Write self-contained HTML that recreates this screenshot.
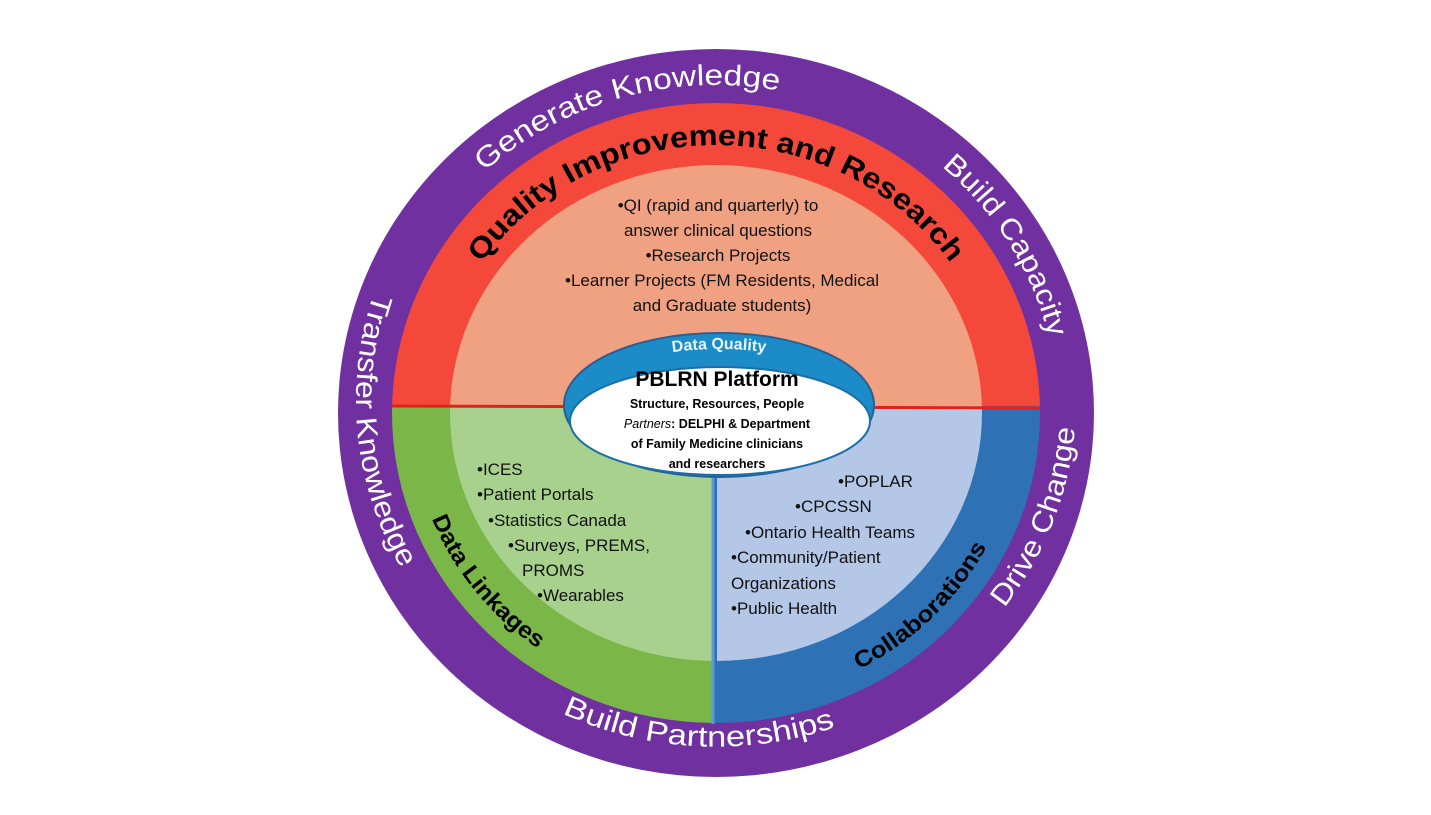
<!DOCTYPE html>
<html><head><meta charset="utf-8"><style>
html,body{margin:0;padding:0;background:#fff;}
svg{display:block;}
text{font-family:"Liberation Sans",sans-serif;}
</style></head><body>
<svg width="1431" height="815" viewBox="0 0 1431 815" xmlns="http://www.w3.org/2000/svg">
<defs>
<clipPath id="red"><ellipse cx="716" cy="413" rx="324" ry="310"/></clipPath>
<clipPath id="lite"><ellipse cx="716" cy="413" rx="266" ry="248"/></clipPath>
<path id="topOuter" d="M 374 413 A 342 328 0 0 1 1058 413" fill="none"/>
<path id="botOuter" d="M 536 101 A 360 346 0 1 0 896 101" fill="none"/>
<path id="topRed" d="M 433 413 A 283 268 0 0 1 999 413" fill="none"/>
<path id="botRed" d="M 452 268 A 305 290 0 1 0 980 268" fill="none"/>
<path id="dq" d="M 579 405 A 140 56 0 0 1 859 405" fill="none"/>
</defs>
<ellipse cx="716" cy="413" rx="378" ry="364" fill="#7030a0"/>
<g clip-path="url(#red)">
<rect x="380" y="90" width="680" height="316" fill="#f4493a"/>
<rect x="380" y="406" width="333" height="330" fill="#7ab648"/>
<rect x="713" y="406" width="350" height="330" fill="#2e72b5"/>
</g>
<g clip-path="url(#lite)">
<rect x="440" y="150" width="560" height="256" fill="#f0a182"/>
<rect x="440" y="406" width="273" height="270" fill="#a9d18e"/>
<rect x="717" y="406" width="290" height="270" fill="#b4c7e7"/>
</g>
<line x1="713" y1="406" x2="713" y2="724" stroke="#5b9bd5" stroke-width="3"/>
<line x1="392" y1="406" x2="1040" y2="408" stroke="#e4201c" stroke-width="3"/>

<ellipse cx="719" cy="405" rx="155" ry="72" fill="#1b8cc8" stroke="#2a5f93" stroke-width="2"/>
<ellipse cx="720" cy="421" rx="150" ry="54" fill="#fff" stroke="#1b6fa8" stroke-width="2"/>
<text font-size="16" font-weight="bold" fill="#e8f6ff"><textPath href="#dq" startOffset="50%" text-anchor="middle">Data Quality</textPath></text>

<g fill="#fff" font-size="29">
<text><textPath href="#topOuter" startOffset="41%" text-anchor="middle" textLength="316" lengthAdjust="spacingAndGlyphs">Generate Knowledge</textPath></text>
<text><textPath href="#topOuter" startOffset="83%" text-anchor="middle" textLength="205" lengthAdjust="spacingAndGlyphs">Build Capacity</textPath></text>
<text><textPath href="#botOuter" startOffset="21.7%" text-anchor="middle" textLength="285" lengthAdjust="spacingAndGlyphs">Transfer Knowledge</textPath></text>
<text><textPath href="#botOuter" startOffset="49%" text-anchor="middle" textLength="280" lengthAdjust="spacingAndGlyphs">Build Partnerships</textPath></text>
<text><textPath href="#botOuter" startOffset="73.3%" text-anchor="middle" textLength="196" lengthAdjust="spacingAndGlyphs">Drive Change</textPath></text>
</g>
<g fill="#000" font-weight="bold">
<text font-size="29"><textPath href="#topRed" startOffset="50%" text-anchor="middle" textLength="545" lengthAdjust="spacingAndGlyphs">Quality Improvement and Research</textPath></text>
<text font-size="23"><textPath href="#botRed" startOffset="27.9%" text-anchor="middle" textLength="170" lengthAdjust="spacingAndGlyphs">Data Linkages</textPath></text>
<text font-size="23"><textPath href="#botRed" startOffset="69.2%" text-anchor="middle" textLength="180" lengthAdjust="spacingAndGlyphs">Collaborations</textPath></text>
</g>

<g font-size="17" fill="#111" text-anchor="middle">
<text x="718" y="211">•QI (rapid and quarterly) to</text>
<text x="718" y="236">answer clinical questions</text>
<text x="718" y="261">•Research Projects</text>
<text x="722" y="286">•Learner Projects (FM Residents, Medical</text>
<text x="722" y="311">and Graduate students)</text>
</g>
<g fill="#000" text-anchor="middle" font-weight="bold">
<text x="717" y="386" font-size="21">PBLRN Platform</text>
<text x="717" y="408" font-size="12.5">Structure, Resources, People</text>
<text x="717" y="428" font-size="12.5"><tspan font-style="italic" font-weight="normal">Partners</tspan>: DELPHI &amp; Department</text>
<text x="717" y="448" font-size="12.5">of Family Medicine clinicians</text>
<text x="717" y="468" font-size="12.5">and researchers</text>
</g>
<g font-size="17" fill="#111">
<text x="477" y="475">•ICES</text>
<text x="477" y="500">•Patient Portals</text>
<text x="488" y="526">•Statistics Canada</text>
<text x="508" y="551">•Surveys, PREMS,</text>
<text x="522" y="576">PROMS</text>
<text x="537" y="601">•Wearables</text>
<text x="838" y="487">•POPLAR</text>
<text x="795" y="512">•CPCSSN</text>
<text x="745" y="538">•Ontario Health Teams</text>
<text x="731" y="563">•Community/Patient</text>
<text x="731" y="589">Organizations</text>
<text x="731" y="614">•Public Health</text>
</g>
</svg>
</body></html>
